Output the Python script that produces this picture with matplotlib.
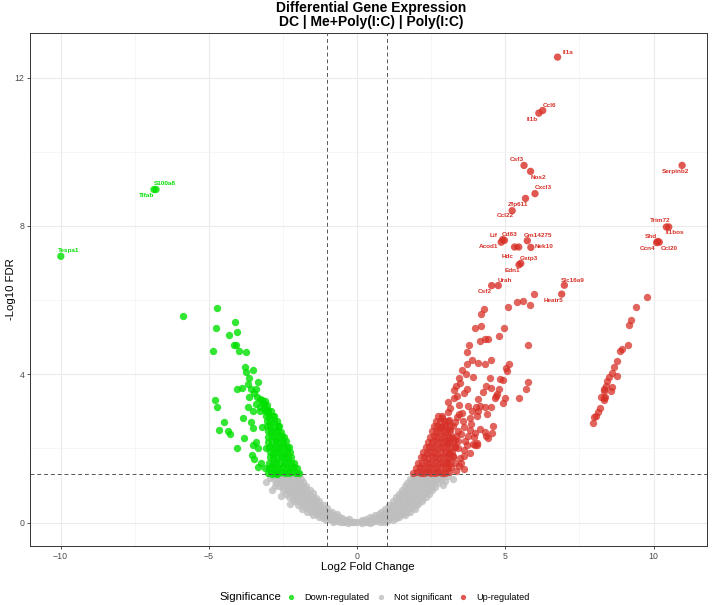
import matplotlib
matplotlib.use('Agg')
import matplotlib.pyplot as plt
from matplotlib.lines import Line2D

plt.rcParams['font.family'] = ['Liberation Sans', 'DejaVu Sans']

# (log2FC, -log10 FDR)
ns_pts = [
    # left arm of the grey cloud
    (-2.85, 1.27), (-2.72, 1.28), (-2.59, 1.26), (-2.46, 1.27), (-2.33, 1.28), (-2.20, 1.26), (-2.07, 1.27), (-1.95, 1.28),
    (-2.80, 1.18), (-2.67, 1.17), (-2.54, 1.19), (-2.41, 1.18), (-2.28, 1.17), (-2.15, 1.19), (-2.02, 1.18), (-1.89, 1.17),
    (-2.72, 1.08), (-2.59, 1.09), (-2.46, 1.07), (-2.33, 1.08), (-2.20, 1.09), (-2.07, 1.07), (-1.94, 1.08), (-1.81, 1.09),
    (-2.62, 0.98), (-2.49, 0.99), (-2.36, 0.97), (-2.23, 0.98), (-2.10, 0.99), (-1.97, 0.97), (-1.84, 0.98), (-1.71, 0.99),
    (-2.50, 0.88), (-2.37, 0.87), (-2.24, 0.89), (-2.11, 0.88), (-1.98, 0.87), (-1.85, 0.89), (-1.72, 0.88), (-1.60, 0.87),
    (-2.40, 0.78), (-2.27, 0.79), (-2.14, 0.77), (-2.01, 0.78), (-1.88, 0.79), (-1.75, 0.77), (-1.62, 0.78), (-1.50, 0.79),
    (-2.28, 0.68), (-2.15, 0.67), (-2.02, 0.69), (-1.89, 0.68), (-1.76, 0.67), (-1.63, 0.69), (-1.50, 0.68), (-1.40, 0.67),
    (-2.14, 0.58), (-2.01, 0.59), (-1.88, 0.57), (-1.75, 0.58), (-1.62, 0.59), (-1.49, 0.57), (-1.37, 0.58), (-1.27, 0.59),
    (-2.00, 0.48), (-1.87, 0.47), (-1.74, 0.49), (-1.61, 0.48), (-1.48, 0.47), (-1.36, 0.49), (-1.24, 0.48), (-1.13, 0.47),
    (-1.85, 0.38), (-1.72, 0.39), (-1.59, 0.37), (-1.46, 0.38), (-1.33, 0.39), (-1.21, 0.37), (-1.10, 0.38), (-1.00, 0.39),
    (-1.68, 0.29), (-1.55, 0.28), (-1.42, 0.30), (-1.29, 0.29), (-1.17, 0.28), (-1.05, 0.30), (-0.94, 0.29), (-0.85, 0.28),
    (-1.48, 0.21), (-1.35, 0.22), (-1.22, 0.20), (-1.10, 0.21), (-0.98, 0.22), (-0.87, 0.20), (-0.77, 0.21), (-0.68, 0.22),
    (-1.28, 0.14), (-1.15, 0.13), (-1.03, 0.15), (-0.92, 0.14), (-0.81, 0.13), (-0.70, 0.15), (-0.60, 0.14), (-0.50, 0.13),
    (-1.05, 0.08), (-0.93, 0.09), (-0.82, 0.07), (-0.71, 0.08), (-0.60, 0.09), (-0.49, 0.07), (-0.38, 0.08), (-0.27, 0.09),
    (-0.82, 0.03), (-0.70, 0.04), (-0.58, 0.02), (-0.46, 0.03), (-0.34, 0.04), (-0.22, 0.02), (-0.10, 0.03), (0.00, 0.01),
    (-0.45, 0.01), (-0.30, 0.00), (-0.15, 0.01), (0.15, 0.00), (0.30, 0.01), (0.45, 0.00),
    (-3.07, 1.10), (-2.95, 1.21), (-2.86, 0.88), (-2.56, 0.71), (-2.26, 0.50), (-2.78, 1.00),
    # right arm of the grey cloud
    (1.92, 1.27), (2.05, 1.28), (2.18, 1.26), (2.31, 1.27), (2.44, 1.28), (2.57, 1.26), (2.70, 1.27), (2.82, 1.28),
    (1.80, 1.18), (1.93, 1.17), (2.06, 1.19), (2.19, 1.18), (2.32, 1.17), (2.45, 1.19), (2.58, 1.18), (2.71, 1.17), (2.84, 1.18),
    (1.70, 1.08), (1.83, 1.09), (1.96, 1.07), (2.09, 1.08), (2.22, 1.09), (2.35, 1.07), (2.48, 1.08), (2.61, 1.09), (2.74, 1.07),
    (1.60, 0.98), (1.73, 0.99), (1.86, 0.97), (1.99, 0.98), (2.12, 0.99), (2.25, 0.97), (2.38, 0.98), (2.51, 0.99), (2.64, 0.97),
    (1.50, 0.88), (1.63, 0.87), (1.76, 0.89), (1.89, 0.88), (2.02, 0.87), (2.15, 0.89), (2.28, 0.88), (2.41, 0.87), (2.54, 0.89),
    (1.40, 0.78), (1.53, 0.79), (1.66, 0.77), (1.79, 0.78), (1.92, 0.79), (2.05, 0.77), (2.18, 0.78), (2.31, 0.79), (2.43, 0.77),
    (1.30, 0.68), (1.43, 0.67), (1.56, 0.69), (1.69, 0.68), (1.82, 0.67), (1.95, 0.69), (2.08, 0.68), (2.20, 0.67), (2.31, 0.69),
    (1.20, 0.58), (1.33, 0.59), (1.46, 0.57), (1.59, 0.58), (1.72, 0.59), (1.85, 0.57), (1.97, 0.58), (2.09, 0.59), (2.19, 0.57),
    (1.08, 0.48), (1.21, 0.47), (1.34, 0.49), (1.47, 0.48), (1.60, 0.47), (1.73, 0.49), (1.85, 0.48), (1.97, 0.47), (2.07, 0.49),
    (0.95, 0.38), (1.08, 0.39), (1.21, 0.37), (1.34, 0.38), (1.47, 0.39), (1.60, 0.37), (1.72, 0.38), (1.84, 0.39), (1.94, 0.37),
    (0.80, 0.29), (0.93, 0.28), (1.06, 0.30), (1.19, 0.29), (1.32, 0.28), (1.45, 0.30), (1.57, 0.29), (1.69, 0.28), (1.79, 0.30),
    (0.62, 0.21), (0.75, 0.22), (0.88, 0.20), (1.01, 0.21), (1.14, 0.22), (1.27, 0.20), (1.39, 0.21), (1.51, 0.22), (1.63, 0.20),
    (0.42, 0.14), (0.55, 0.13), (0.68, 0.15), (0.81, 0.14), (0.94, 0.13), (1.07, 0.15), (1.19, 0.14), (1.31, 0.13), (1.43, 0.15),
    (0.18, 0.08), (0.31, 0.09), (0.44, 0.07), (0.57, 0.08), (0.70, 0.09), (0.83, 0.07), (0.95, 0.08), (1.07, 0.09), (1.20, 0.07),
    (0.12, 0.03), (0.25, 0.04), (0.38, 0.02), (0.51, 0.03), (0.64, 0.04), (0.77, 0.02), (0.90, 0.03), (1.00, 0.04),
    (2.86, 1.22), (2.95, 1.12), (2.90, 1.02), (3.25, 1.18), (3.05, 1.27),
]

down_pts = [
    # dense block just above the FDR line
    (-3.02, 1.35), (-2.90, 1.36), (-2.78, 1.34), (-2.66, 1.35), (-2.54, 1.36), (-2.42, 1.34), (-2.30, 1.35), (-2.18, 1.36), (-2.06, 1.34), (-1.96, 1.35),
    (-2.98, 1.48), (-2.86, 1.49), (-2.74, 1.47), (-2.62, 1.48), (-2.50, 1.49), (-2.38, 1.47), (-2.26, 1.48), (-2.14, 1.49), (-2.04, 1.47),
    (-2.96, 1.62), (-2.84, 1.61), (-2.72, 1.63), (-2.60, 1.62), (-2.48, 1.61), (-2.36, 1.63), (-2.24, 1.62), (-2.12, 1.61),
    (-2.94, 1.76), (-2.82, 1.77), (-2.70, 1.75), (-2.58, 1.76), (-2.46, 1.77), (-2.34, 1.75), (-2.22, 1.76),
    (-2.95, 1.90), (-2.83, 1.89), (-2.71, 1.91), (-2.59, 1.90), (-2.47, 1.89), (-2.35, 1.91), (-2.25, 1.90),
    (-2.97, 2.04), (-2.85, 2.05), (-2.73, 2.03), (-2.61, 2.04), (-2.49, 2.05), (-2.38, 2.03), (-2.30, 2.04),
    (-2.99, 2.18), (-2.87, 2.17), (-2.75, 2.19), (-2.63, 2.18), (-2.51, 2.17), (-2.40, 2.19),
    (-3.00, 2.32), (-2.88, 2.33), (-2.76, 2.31), (-2.64, 2.32), (-2.52, 2.33), (-2.46, 2.31),
    (-3.02, 2.46), (-2.90, 2.45), (-2.78, 2.47), (-2.66, 2.46), (-2.56, 2.45),
    (-3.04, 2.60), (-2.92, 2.61), (-2.80, 2.59), (-2.68, 2.60), (-2.62, 2.61),
    (-3.05, 2.74), (-2.93, 2.73), (-2.81, 2.75), (-2.71, 2.74),
    (-3.08, 2.88), (-2.96, 2.89), (-2.84, 2.87), (-2.79, 2.88),
    (-3.12, 3.02), (-3.00, 3.03), (-2.90, 3.01),
    (-3.15, 3.16), (-3.03, 3.17), (-3.20, 3.30), (-3.10, 3.29),
    # sparse points
    (-5.86, 5.58), (-4.73, 5.78), (-4.76, 5.24), (-4.13, 5.42), (-4.05, 5.14), (-4.32, 5.05),
    (-4.15, 4.80), (-4.08, 4.80), (-3.99, 4.64), (-4.85, 4.64), (-3.73, 4.59), (-3.79, 4.20),
    (-3.75, 4.06), (-3.52, 4.12), (-3.65, 3.89), (-3.69, 3.75), (-3.35, 3.79), (-4.05, 3.60),
    (-3.89, 3.64), (-3.59, 3.60), (-3.41, 3.60), (-3.46, 3.49), (-3.63, 3.39), (-3.36, 3.39),
    (-4.79, 3.31), (-3.27, 3.32), (-3.18, 3.23), (-4.71, 3.12), (-3.67, 3.12), (-3.41, 3.21),
    (-3.29, 3.12), (-3.10, 3.09), (-3.05, 3.00), (-3.52, 3.00), (-3.27, 3.00), (-2.98, 2.91),
    (-3.85, 2.82), (-3.59, 2.71), (-4.49, 2.71), (-4.64, 2.51), (-4.34, 2.46), (-4.28, 2.39),
    (-3.50, 2.55), (-3.20, 2.57), (-3.83, 2.28), (-4.05, 2.02), (-3.41, 2.17), (-3.50, 2.08),
    (-3.33, 2.01), (-3.55, 1.81), (-3.47, 1.71), (-3.24, 1.61), (-3.33, 1.49), (-3.10, 1.46),
    (-3.07, 2.01), (-2.88, 1.31), (-2.71, 1.31),
]

up_pts = [
    # dense block just above the FDR line
    (1.90, 1.35), (2.02, 1.36), (2.14, 1.34), (2.26, 1.35), (2.38, 1.36), (2.50, 1.34), (2.62, 1.35), (2.74, 1.36), (2.86, 1.34), (2.98, 1.35), (3.10, 1.36),
    (1.99, 1.48), (2.11, 1.49), (2.23, 1.47), (2.35, 1.48), (2.47, 1.49), (2.59, 1.47), (2.71, 1.48), (2.83, 1.49), (2.95, 1.47), (3.07, 1.48), (3.17, 1.49),
    (2.07, 1.62), (2.19, 1.61), (2.31, 1.63), (2.43, 1.62), (2.55, 1.61), (2.67, 1.63), (2.79, 1.62), (2.91, 1.61), (3.03, 1.63), (3.15, 1.62),
    (2.15, 1.76), (2.27, 1.77), (2.39, 1.75), (2.51, 1.76), (2.63, 1.77), (2.75, 1.75), (2.87, 1.76), (2.99, 1.77), (3.11, 1.75), (3.23, 1.76),
    (2.23, 1.90), (2.35, 1.89), (2.47, 1.91), (2.59, 1.90), (2.71, 1.89), (2.83, 1.91), (2.95, 1.90), (3.07, 1.89), (3.20, 1.91),
    (2.31, 2.04), (2.43, 2.05), (2.55, 2.03), (2.67, 2.04), (2.79, 2.05), (2.91, 2.03), (3.03, 2.04), (3.15, 2.05), (3.30, 2.03),
    (2.39, 2.18), (2.51, 2.17), (2.63, 2.19), (2.75, 2.18), (2.87, 2.17), (2.99, 2.19), (3.11, 2.18), (3.25, 2.17), (3.40, 2.19),
    (2.46, 2.32), (2.58, 2.33), (2.70, 2.31), (2.82, 2.32), (2.94, 2.33), (3.06, 2.31), (3.20, 2.32), (3.35, 2.33),
    (2.53, 2.46), (2.65, 2.45), (2.77, 2.47), (2.89, 2.46), (3.01, 2.45), (3.15, 2.47),
    (2.59, 2.60), (2.71, 2.61), (2.83, 2.59), (2.97, 2.60), (3.12, 2.61),
    (2.66, 2.74), (2.78, 2.73), (2.92, 2.75), (3.05, 2.74), (2.74, 2.88), (2.88, 2.87),
    (3.35, 1.40), (3.50, 1.60), (3.60, 1.80), (3.65, 2.20), (3.50, 2.40), (3.30, 2.70),
    (3.55, 2.95), (3.85, 2.65), (3.95, 2.30), (3.60, 1.45), (3.30, 1.60), (3.40, 2.00),
    # sparse points
    (5.59, 5.97), (5.39, 5.94), (5.84, 5.88), (5.08, 5.81), (4.28, 5.77), (4.18, 5.62),
    (3.96, 5.26), (4.17, 5.29), (4.96, 5.24), (4.32, 4.96), (4.15, 4.90), (4.40, 4.95),
    (4.77, 5.02), (5.77, 4.78), (3.79, 4.78), (3.70, 4.61), (3.86, 4.39), (3.70, 4.28),
    (4.07, 4.30), (4.32, 4.28), (4.51, 4.38), (5.12, 4.27), (5.05, 4.10), (5.02, 4.16),
    (3.53, 4.12), (3.66, 4.01), (3.45, 3.90), (3.91, 3.92), (4.49, 3.91), (4.82, 3.88),
    (4.93, 3.84), (5.78, 3.80), (5.68, 3.60), (5.45, 3.37), (3.47, 3.77), (3.34, 3.69),
    (3.28, 3.58), (3.72, 3.61), (3.59, 3.49), (3.38, 3.42), (3.27, 3.36), (4.34, 3.67),
    (4.53, 3.63), (4.77, 3.60), (4.71, 3.47), (4.23, 3.51), (4.07, 3.33), (4.64, 3.36),
    (4.69, 3.42), (4.99, 3.35), (4.91, 3.22), (3.06, 3.24), (3.14, 3.08), (3.08, 2.99),
    (3.45, 3.18), (3.73, 3.15), (4.01, 3.13), (4.15, 3.15), (4.32, 3.12), (4.51, 3.13),
    (3.88, 3.00), (4.09, 3.00), (4.37, 2.94), (4.06, 2.88), (3.81, 2.82), (3.45, 2.94),
    (3.38, 2.85), (3.11, 2.78), (3.56, 2.73), (2.86, 2.82), (2.97, 2.64), (2.80, 2.58),
    (3.09, 2.51), (3.25, 2.61), (3.42, 2.46), (3.61, 2.58), (3.81, 2.51), (3.98, 2.42),
    (4.15, 2.52), (4.32, 2.44), (4.60, 2.60), (4.35, 2.33), (4.43, 2.28), (4.55, 2.42),
    (3.75, 2.33), (4.04, 2.15), (3.70, 2.10), (3.30, 2.24), (3.14, 2.28), (3.02, 2.15),
    (3.30, 2.05), (3.59, 1.97), (3.81, 1.88), (3.98, 2.10), (3.25, 1.79), (3.45, 1.52),
    (3.02, 1.61), (3.47, 1.74), (3.14, 1.88), (3.91, 2.12), (4.05, 2.10), (5.98, 6.16),
    # far-right streak
    (9.79, 6.08), (9.39, 5.81), (9.25, 5.47), (9.18, 5.34), (9.15, 4.78), (8.92, 4.68),
    (8.87, 4.62), (8.75, 4.36), (8.68, 4.19), (8.77, 3.96), (8.58, 4.03), (8.51, 3.92),
    (8.44, 3.81), (8.38, 3.67), (8.31, 3.56), (8.33, 3.60), (8.59, 3.66), (8.55, 3.54),
    (8.23, 3.39), (8.34, 3.35), (8.31, 3.31), (8.37, 3.39), (8.20, 3.09), (8.11, 2.97),
    (8.04, 2.87), (8.00, 2.84), (7.94, 2.69),
]

# labelled genes
genes = ['Il1a', 'Ccl6', 'Il1b', 'Csf3', 'Nos2', 'Cxcl3', 'Zfp611', 'Ccl22', 'Serpinb2',
         'Trim72', 'Il1bos', 'Shd', 'Ccn4', 'Ccl20', 'Lif', 'Cd83', 'Acod1', 'Gm14275',
         'Il6', 'Hdc', 'Nek10', 'Gstp3', 'Edn1', 'Urah', 'Csf2', 'Slc16a9', 'Heatr5',
         'S100a8', 'Tifab', 'Tespa1']
gene_fc = [6.76, 6.26, 6.13, 5.63, 5.85, 6.00, 5.68, 5.23, 10.96,
           10.43, 10.51, 10.14, 10.10, 10.19, 4.91, 4.97, 4.86, 5.74,
           5.45, 5.31, 5.86, 5.52, 5.46, 4.76, 4.54, 6.99, 6.90,
           -6.78, -6.85, -9.99]
gene_fdr = [12.55, 11.11, 11.04, 9.63, 9.47, 8.87, 8.74, 8.41, 9.63,
            7.97, 7.97, 7.58, 7.55, 7.56, 7.63, 7.61, 7.56, 7.60,
            7.43, 7.43, 7.42, 6.99, 6.95, 6.39, 6.39, 6.40, 6.16,
            8.98, 8.98, 7.18]

# label offsets from their point, in pixels (right, up)
label_off = [(10, 5), (7, 5), (-7, -6), (-7, 6), (8, -6), (8, 6), (-8, -6), (-7, -5), (-7, -6),
             (-6, 6), (6, -6), (-7, 5), (-9, -6), (10, -6), (-9, 4), (5, 6), (-13, -4), (11, 5),
             (-2, 0), (-7, -9), (13, 1), (8, 5), (-7, -6), (7, 5), (-7, -6), (8, 5), (-8, -6),
             (9, 6), (-7, -6), (8, 6)]

RED = '#D73027'
GREEN = '#00E000'
GREY = '#BEBEBE'
SIZE = 28


def split(pts):
    return [p[0] for p in pts], [p[1] for p in pts]


W, H = 714, 605
fig = plt.figure(figsize=(W / 100, H / 100), dpi=100)
ax = fig.add_axes([30 / W, 1 - 546 / H, (707 - 30) / W, (546 - 33) / H])

ax.set_xlim(-11.03, 11.8)
ax.set_ylim(-0.63, 13.2)
ax.set_xticks([-10, -5, 0, 5, 10])
ax.set_yticks([0, 4, 8, 12])
ax.set_xticks([-7.5, -2.5, 2.5, 7.5], minor=True)
ax.set_yticks([2, 6, 10], minor=True)
ax.grid(True, which='major', color='#EBEBEB', lw=0.8, zorder=0)
ax.grid(True, which='minor', color='#F2F2F2', lw=0.45, zorder=0)
ax.set_axisbelow(True)
ax.tick_params(which='major', length=2.5, width=0.6, color='#333333',
               labelsize=6.3, labelcolor='#4D4D4D', pad=1.5)
ax.tick_params(which='minor', length=0)
for sp in ax.spines.values():
    sp.set_color('#333333')
    sp.set_linewidth(0.7)

ax.scatter(*split(ns_pts), s=SIZE, c=GREY, alpha=0.8, linewidths=0, zorder=2)
ax.scatter(*split(down_pts), s=SIZE, c=GREEN, alpha=0.8, linewidths=0, zorder=3)
ax.scatter(*split(up_pts), s=SIZE, c=RED, alpha=0.75, linewidths=0, zorder=3)

g_col = [RED if fc > 0 else GREEN for fc in gene_fc]
ax.scatter(gene_fc, gene_fdr, s=SIZE, c=g_col, alpha=0.8, linewidths=0, zorder=3)

for name, fc, fdr, off, col in zip(genes, gene_fc, gene_fdr, label_off, g_col):
    ax.annotate(name, (fc, fdr), xytext=(off[0] * 0.72, off[1] * 0.72),
                textcoords='offset points', ha='center', va='center',
                fontsize=4.6, fontweight='bold', color=col, zorder=4)

dash = (0, (4, 3))
ax.axvline(-1, color='#555555', lw=0.7, ls=dash, zorder=5)
ax.axvline(1, color='#555555', lw=0.7, ls=dash, zorder=5)
ax.axhline(1.301, color='#555555', lw=0.7, ls=dash, zorder=5)

fig.text(371 / W, 1 - 8 / H, 'Differential Gene Expression', ha='center', va='center',
         fontsize=10, fontweight='bold')
fig.text(371 / W, 1 - 22 / H, 'DC | Me+Poly(I:C) | Poly(I:C)', ha='center', va='center',
         fontsize=10, fontweight='bold')
fig.text(368 / W, 1 - 567 / H, 'Log2 Fold Change', ha='center', va='center', fontsize=8.2)
fig.text(11 / W, 1 - 289 / H, '-Log10 FDR', ha='center', va='center', fontsize=8.2,
         rotation=90)

# legend drawn by hand along the bottom
leg_y = 1 - 597 / H
fig.text(219 / W, leg_y, 'Significance', ha='left', va='center', fontsize=8.2)
for px, tx, col, lab in [(291, 304, GREEN, 'Down-regulated'),
                         (381, 394, GREY, 'Not significant'),
                         (463, 476, RED, 'Up-regulated')]:
    fig.add_artist(Line2D([px / W], [leg_y], marker='o', ms=3.8, color=col, alpha=0.8,
                          markeredgewidth=0, transform=fig.transFigure))
    fig.text(tx / W, leg_y, lab, ha='left', va='center', fontsize=6.6)

fig.savefig('out.png', dpi=100)
